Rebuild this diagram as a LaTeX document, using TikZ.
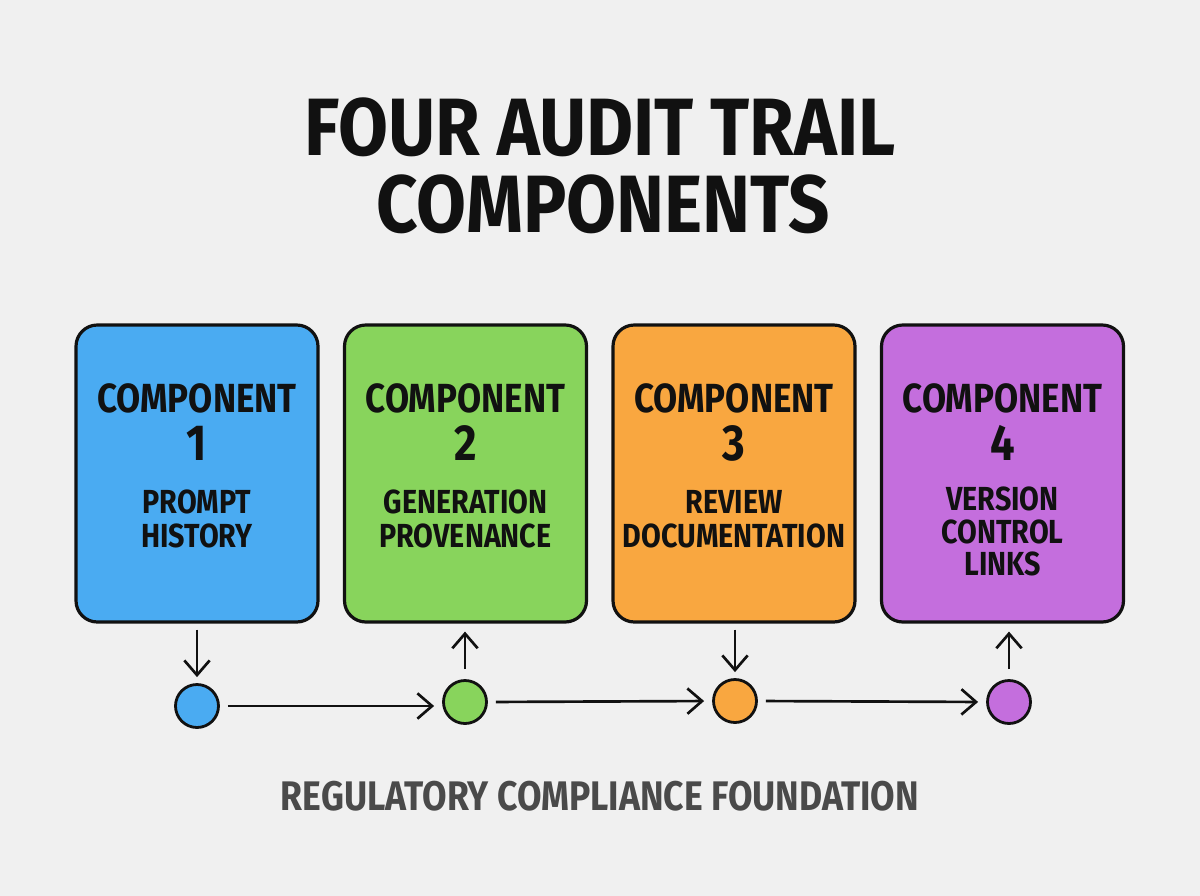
\documentclass[tikz,border=0pt]{standalone}
\usepackage{fontspec}
\usetikzlibrary{arrows.meta}
\newfontfamily\hand{Fira Sans}[FakeStretch=0.86]
\newfontfamily\handwide{Fira Sans}[FakeStretch=0.89]
\newdimen\pxu \pxu=0.75pt
\definecolor{bg}{HTML}{F0F0F0}
\definecolor{cblue}{HTML}{4AABF2}
\definecolor{cgreen}{HTML}{88D45C}
\definecolor{corange}{HTML}{F9A740}
\definecolor{cpurple}{HTML}{C46EDD}
\definecolor{ink}{HTML}{111111}
\definecolor{grey}{HTML}{4A4A4A}
\tikzset{
  compbox/.style={draw=ink, line width=2.4pt, rounded corners=16pt, minimum width=242\pxu, minimum height=297\pxu, inner sep=0pt},
  dot/.style={circle, draw=ink, line width=2.1pt, minimum size=43\pxu, inner sep=0pt},
  arr/.style={draw=ink, line width=2pt, -{Straight Barb[length=11pt,width=19pt,line width=2pt]}},
  title/.style={anchor=base, font=\handwide\bfseries\fontsize{61}{61}\selectfont, text=ink, inner sep=0pt},
  head/.style={anchor=base, font=\hand\bfseries\fontsize{30.5}{30.5}\selectfont, text=ink, inner sep=0pt},
  num/.style={anchor=base, font=\hand\bfseries\fontsize{38}{38}\selectfont, text=ink, inner sep=0pt},
  sub/.style={anchor=base, font=\hand\bfseries\fontsize{25}{25}\selectfont, text=ink, inner sep=0pt},
  foot/.style={anchor=base, font=\hand\bfseries\fontsize{31}{31}\selectfont, text=grey, inner sep=0pt}
}
\begin{document}
\begin{tikzpicture}[x=0.75pt, y=-0.75pt]
\fill[bg] (0,0) rectangle (1200,896);
\useasboundingbox (0,0) rectangle (1200,896);

\node[title] (t1) at (600,155) {FOUR AUDIT TRAIL};
\node[title] (t2) at (603,232) {COMPONENTS};

\node[compbox, fill=cblue]   (b1) at (197,473.5) {};
\node[compbox, fill=cgreen]  (b2) at (465.5,473.5) {};
\node[compbox, fill=corange] (b3) at (734,473.5) {};
\node[compbox, fill=cpurple] (b4) at (1002.5,473.5) {};

\node[head] (h1) at (197,412) {COMPONENT};
\node[num]  (n1) at (197,460) {1};
\node[sub]  (s1a) at (197,513) {PROMPT};
\node[sub]  (s1b) at (197,547) {HISTORY};

\node[head] (h2) at (465.5,412) {COMPONENT};
\node[num]  (n2) at (465.5,460) {2};
\node[sub]  (s2a) at (465.5,513) {GENERATION};
\node[sub]  (s2b) at (465.5,547) {PROVENANCE};

\node[head] (h3) at (734,412) {COMPONENT};
\node[num]  (n3) at (734,460) {3};
\node[sub]  (s3a) at (734,513) {REVIEW};
\node[sub]  (s3b) at (734,547) {DOCUMENTATION};

\node[head] (h4) at (1002.5,412) {COMPONENT};
\node[num]  (n4) at (1002.5,460) {4};
\node[sub]  (s4a) at (1002.5,510) {VERSION};
\node[sub]  (s4b) at (1002.5,543) {CONTROL};
\node[sub]  (s4c) at (1002.5,575) {LINKS};

\node[dot, fill=cblue]   (c1) at (197,706) {};
\node[dot, fill=cgreen]  (c2) at (465,702) {};
\node[dot, fill=corange] (c3) at (735,701) {};
\node[dot, fill=cpurple] (c4) at (1009,702) {};

\draw[arr, shorten <=6\pxu, shorten >=6\pxu] (b1.south) -- (b1.south |- c1.north);
\draw[arr, shorten <=10\pxu, shorten >=8\pxu] (c2.north) -- (c2.north |- b2.south);
\draw[arr, shorten <=6\pxu, shorten >=6\pxu] (b3.south -| c3.north) -- (c3.north);
\draw[arr, shorten <=10\pxu, shorten >=8\pxu] (c4.north) -- (c4.north |- b4.south);

\draw[arr, shorten <=8\pxu, shorten >=8\pxu] (c1.east) -- (c2.west |- c1.east);
\draw[arr, shorten <=8\pxu, shorten >=8\pxu] (c2.east) -- (c3.west);
\draw[arr, shorten <=8\pxu, shorten >=8\pxu] (c3.east) -- (c4.west);

\node[foot] (f) at (600,810) {REGULATORY COMPLIANCE FOUNDATION};
\end{tikzpicture}
\end{document}
